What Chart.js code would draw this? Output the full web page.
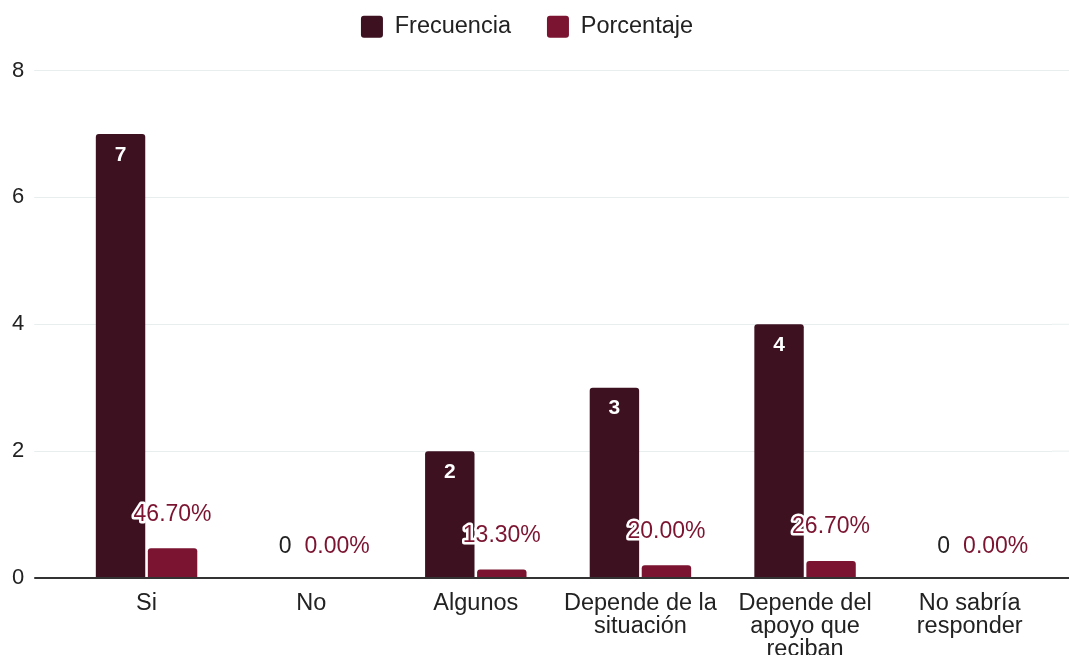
<!DOCTYPE html>
<html>
<head>
<meta charset="utf-8">
<script src="https://cdn.jsdelivr.net/npm/chart.js@4/dist/chart.umd.min.js"></script>
<style>
html,body{margin:0;padding:0;background:#fff;}
#wrap{width:1069px;height:655px;position:relative;}
</style>
</head>
<body>
<div id="wrap"><canvas id="c"></canvas></div>
<script>
const categories = [
  'Si',
  'No',
  'Algunos',
  ['Depende de la', 'situación'],
  ['Depende del', 'apoyo que', 'reciban'],
  ['No sabría', 'responder']
];
const frecuencia = [7, 0, 2, 3, 4, 0];
const porcentaje = [0.467, 0, 0.133, 0.2, 0.267, 0];
const yTicks = [0, 2, 4, 6, 8];

const COL_F = '#3d1120';
const COL_P = '#7b1431';
const FONT = '"Liberation Sans", Arial, sans-serif';

const labelPlugin = {
  id: 'valueLabels',
  afterDatasetsDraw(chart) {
    const ctx = chart.ctx;
    ctx.save();
    ctx.textAlign = 'center';
    ctx.textBaseline = 'middle';
    chart.data.datasets.forEach((ds, di) => {
      const meta = chart.getDatasetMeta(di);
      meta.data.forEach((bar, i) => {
        const v = ds.data[i];
        if (di === 0) {
          if (v > 0) {
            ctx.font = 'bold 21px ' + FONT;
            ctx.fillStyle = '#ffffff';
            ctx.fillText(String(v), bar.x, bar.y + 21);
          } else {
            ctx.font = '23px ' + FONT;
            ctx.fillStyle = '#222222';
            ctx.fillText(String(v), bar.x, bar.y - 31);
          }
        } else {
          const txt = (v * 100).toFixed(2) + '%';
          ctx.font = '23px ' + FONT;
          ctx.lineJoin = 'round';
          ctx.lineWidth = 5;
          ctx.strokeStyle = '#ffffff';
          if (v > 0) ctx.strokeText(txt, bar.x, bar.y - 34);
          ctx.fillStyle = COL_P;
          ctx.fillText(txt, bar.x, bar.y - (v > 0 ? 34 : 31));
        }
      });
    });
    ctx.restore();
  }
};

const gridExtend = {
  id: 'gridExtend',
  beforeDatasetsDraw(chart) {
    const ctx = chart.ctx;
    const ys = chart.scales.y;
    ctx.save();
    ys.ticks.forEach(t => {
      const y = ys.getPixelForValue(t.value);
      ctx.beginPath();
      ctx.strokeStyle = t.value === 0 ? '#333333' : '#e8eeee';
      ctx.lineWidth = t.value === 0 ? 2 : 1;
      ctx.moveTo(chart.chartArea.right, y);
      ctx.lineTo(chart.width, y);
      ctx.stroke();
    });
    ctx.restore();
  }
};

const legendSpace = {
  id: 'legendSpace',
  beforeLayout(chart) {
    const lg = chart.legend;
    if (lg && !lg._patched) {
      const orig = lg.fit;
      lg.fit = function () { orig.call(this); this.height += 22; };
      lg._patched = true;
    }
  }
};

new Chart(document.getElementById('c'), {
  type: 'bar',
  data: {
    labels: categories,
    datasets: [
      { label: 'Frecuencia', data: frecuencia, backgroundColor: COL_F, borderRadius: 3, borderSkipped: 'bottom' },
      { label: 'Porcentaje', data: porcentaje, backgroundColor: COL_P, borderRadius: 3, borderSkipped: 'bottom' }
    ]
  },
  options: {
    responsive: true,
    maintainAspectRatio: false,
    animation: false,
    categoryPercentage: 0.632,
    barPercentage: 0.95,
    layout: { padding: { left: 2, right: 17, top: -21, bottom: 0 } },
    plugins: {
      legend: {
        position: 'top',
        labels: {
          font: { family: FONT, size: 23.5 },
          color: '#222',
          boxWidth: 22,
          boxHeight: 22,
          padding: 36,
          useBorderRadius: true,
          borderRadius: 3
        }
      },
      tooltip: { enabled: false }
    },
    scales: {
      x: {
        grid: { display: false },
        border: { display: false },
        afterFit(scale) { scale.height = 77; },
        ticks: {
          font: { family: FONT, size: 23.5, lineHeight: 0.98 },
          color: '#222',
          maxRotation: 0,
          autoSkip: false,
          padding: 6
        }
      },
      y: {
        min: 0,
        max: 8,
        afterBuildTicks(scale) { scale.ticks = yTicks.map(v => ({ value: v })); },
        border: { display: false },
        grid: {
          color: ctx => (ctx.tick && ctx.tick.value === 0) ? '#333333' : '#e8eeee',
          lineWidth: ctx => (ctx.tick && ctx.tick.value === 0) ? 2 : 1,
          tickLength: 30
        },
        ticks: {
          font: { family: FONT, size: 22 },
          color: '#222',
          padding: 10
        }
      }
    }
  },
  plugins: [labelPlugin, gridExtend, legendSpace]
});
</script>
</body>
</html>
